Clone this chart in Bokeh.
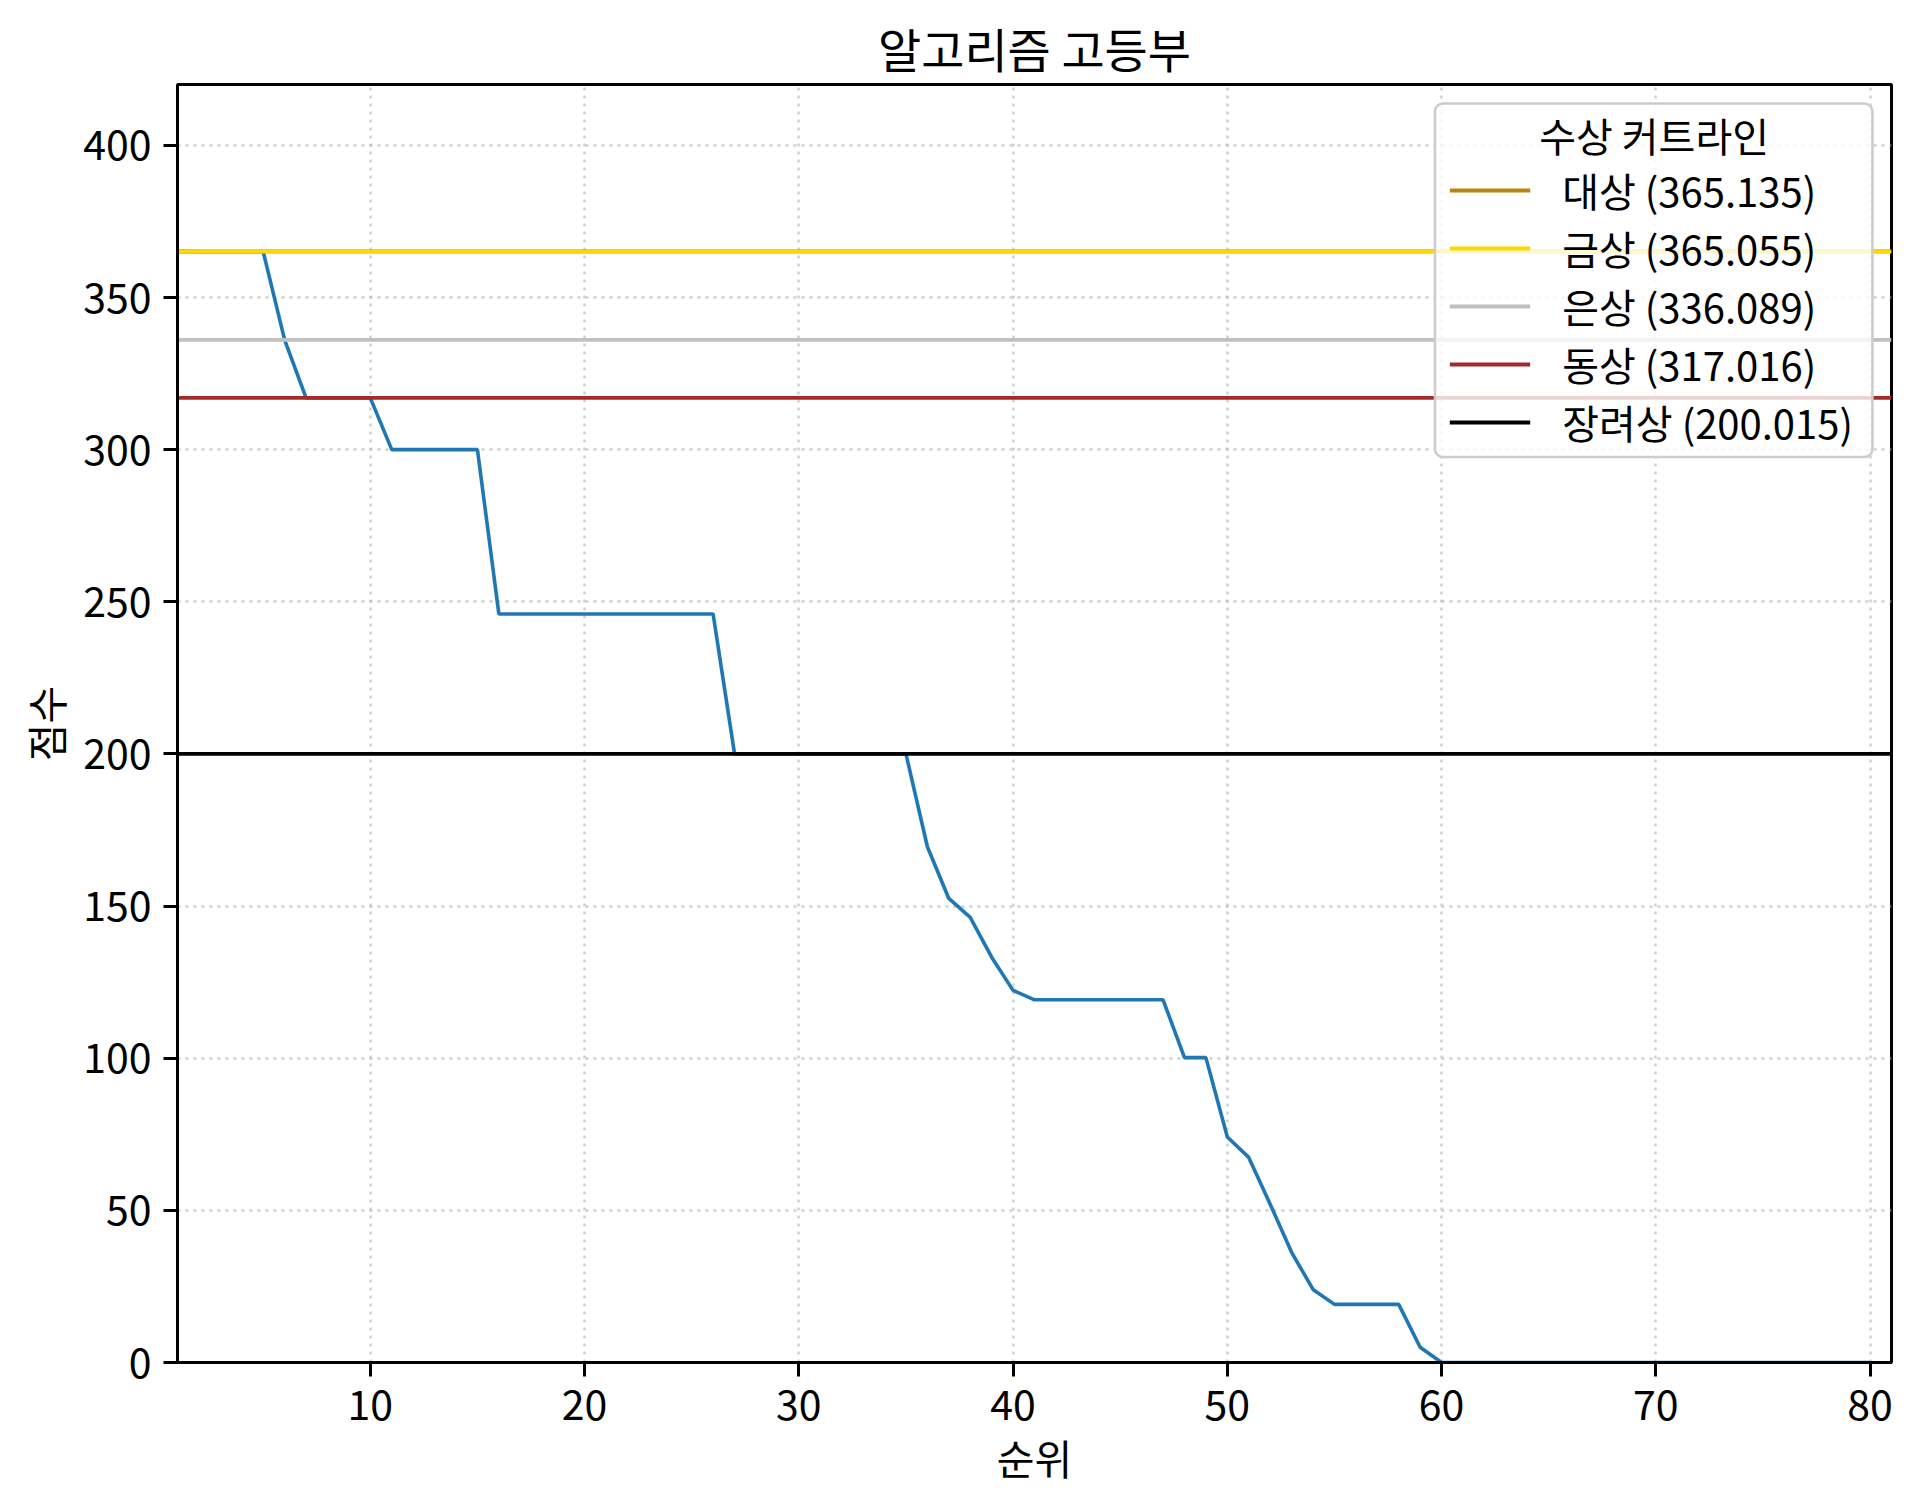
from bokeh.plotting import figure
from bokeh.models import Range1d, FixedTicker, Legend, LegendItem, Label, BoxAnnotation
from bokeh.embed import file_html
from bokeh.resources import INLINE

# ---- data ----
ranks = list(range(1, 81))
scores = [
    365.135, 365.055, 365.055, 365.055, 365.055,
    336.089,
    317.016, 317.016, 317.016, 317.016,
    300.0, 300.0, 300.0, 300.0, 300.0,
    246.0, 246.0, 246.0, 246.0, 246.0, 246.0, 246.0, 246.0, 246.0, 246.0, 246.0,
    200.015, 200.015, 200.015, 200.015, 200.015, 200.015, 200.015, 200.015, 200.015,
    169.5, 152.5, 146.3, 133.2, 122.3,
    119.2, 119.2, 119.2, 119.2, 119.2, 119.2, 119.2,
    100.2, 100.2,
    74.1, 67.4, 52.0, 36.2, 24.0,
    19.1, 19.1, 19.1, 19.1,
    5.0,
    0, 0, 0, 0, 0, 0, 0, 0, 0, 0, 0, 0, 0, 0, 0, 0, 0, 0, 0, 0, 0,
]
cut_names = ["대상", "금상", "은상", "동상", "장려상"]
cut_values = [365.135, 365.055, 336.089, 317.016, 200.015]
cut_colors = ["#B8860B", "#FFD700", "#C0C0C0", "#A52A2A", "#000000"]

title_text = "알고리즘 고등부"
x_label = "순위"
y_label = "점수"
legend_title = "수상 커트라인"
x_ticks = [10, 20, 30, 40, 50, 60, 70, 80]
y_ticks = [0, 50, 100, 150, 200, 250, 300, 350, 400]
x_lo, x_hi = 1, 81
y_lo, y_hi = 0, 420

FONT = "Noto Sans CJK KR"

p = figure(
    frame_width=1714, frame_height=1278,
    min_border_left=177, min_border_right=10, min_border_top=84, min_border_bottom=136,
    x_range=Range1d(x_lo, x_hi), y_range=Range1d(y_lo, y_hi),
    output_backend="svg", toolbar_location=None, title=title_text,
)
p.background_fill_color = "white"
p.border_fill_color = "white"
p.outline_line_color = "black"
p.outline_line_width = 3
p.outline_line_alpha = 1.0

p.title.text_font = FONT
p.title.text_font_size = "47px"
p.title.text_font_style = "normal"
p.title.text_color = "black"
p.title.align = "center"
p.title.standoff = 6

for ax in (p.xaxis[0], p.yaxis[0]):
    ax.major_label_text_font = FONT
    ax.major_label_text_font_size = "41px"
    ax.major_label_text_color = "black"
    ax.axis_label_text_font = FONT
    ax.axis_label_text_font_size = "41px"
    ax.axis_label_text_font_style = "normal"
    ax.axis_label_text_color = "black"
    ax.axis_line_color = "black"
    ax.axis_line_width = 3
    ax.major_tick_line_color = "black"
    ax.major_tick_line_width = 3
    ax.major_tick_out = 14
    ax.major_tick_in = 0
    ax.minor_tick_line_color = None

p.xaxis.major_label_standoff = 13
p.yaxis.major_label_standoff = 12
p.xaxis.axis_label = x_label
p.yaxis.axis_label = y_label
p.xaxis.axis_label_standoff = 4
p.yaxis.axis_label_standoff = 5
p.xaxis.ticker = FixedTicker(ticks=x_ticks)
p.yaxis.ticker = FixedTicker(ticks=y_ticks)

for g in (p.xgrid[0], p.ygrid[0]):
    g.grid_line_color = "#b0b0b0"
    g.grid_line_alpha = 0.6
    g.grid_line_width = 2.5
    g.grid_line_dash = "3 5"
p.xgrid.ticker = FixedTicker(ticks=x_ticks)
p.ygrid.ticker = FixedTicker(ticks=y_ticks)

# main series
p.line(ranks, scores, line_color="#1f77b4", line_width=3.6)

# cutoff lines
items = []
for name, val, col in zip(cut_names, cut_values, cut_colors):
    r = p.line([x_lo, x_hi], [val, val], line_color=col, line_width=3.8)
    items.append(LegendItem(label=f"{name} ({val:.3f})", renderers=[r]))

# legend frame (semi-transparent white, rounded, light grey border)
p.add_layout(BoxAnnotation(
    left=59.69, right=80.11, top=413.75, bottom=297.6,
    fill_color="white", fill_alpha=0.8,
    line_color="#cccccc", line_width=2.5, line_alpha=1.0,
    border_radius=8,
))

legend = Legend(
    items=items, location="top_right", title="\u00a0",
    label_text_font=FONT, label_text_font_size="40px", label_text_color="black",
    title_text_font=FONT, title_text_font_size="20px", title_text_font_style="normal",
    title_standoff=10,
    glyph_width=81, glyph_height=50, label_height=50, label_standoff=32,
    spacing=0, padding=18, margin=19,
    border_line_color="#cccccc", border_line_alpha=0.01, border_line_width=1,
    background_fill_color=None, background_fill_alpha=0.0,
)
p.add_layout(legend)

# centred legend title
p.add_layout(Label(
    x=69.92, y=403.4, text=legend_title, text_align="center", text_baseline="middle",
    text_font=FONT, text_font_size="40px", text_color="black", level="overlay",
))

open("out.html", "w").write(file_html(p, INLINE))
